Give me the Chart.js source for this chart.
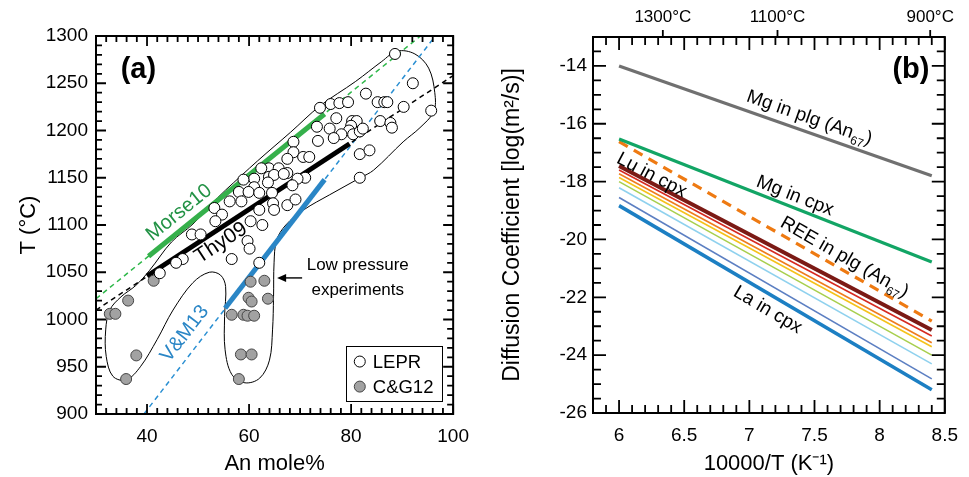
<!DOCTYPE html>
<html>
<head>
<meta charset="utf-8">
<script src="https://cdn.jsdelivr.net/npm/chart.js@4.4.1/dist/chart.umd.min.js"></script>
<style>
  html, body { margin: 0; padding: 0; background: #fff; overflow: hidden; }
  #wrap { position: relative; width: 969px; height: 477px; }
  canvas { position: absolute; top: 0; }
  #chartA { left: 0; }
  #chartB { left: 480px; }
</style>
</head>
<body>
<div id="wrap">
  <canvas id="chartA" width="480" height="477"></canvas>
  <canvas id="chartB" width="489" height="477"></canvas>
</div>
<script>
const FONT = '"Liberation Sans", Arial, Helvetica, sans-serif';

// ---- panel (a) : plagioclase An content vs temperature ----
const lepAn = [88.6, 92.1, 82.9, 73.9, 76.0, 77.7, 79.4, 85.2, 86.5, 87.1, 90.3, 95.7, 77.1, 80.2, 81.1,
  85.7, 87.7, 88.0, 73.3, 75.8, 80.0, 79.6, 78.1, 76.6, 80.4, 81.7, 82.3, 73.5, 68.7, 68.7,
  70.6, 71.8, 81.7, 83.6, 81.7, 67.5, 63.9, 65.8, 67.5, 63.9, 64.9, 66.8, 71.0, 69.5, 61.0,
  63.7, 61.0, 68.5, 58.0, 59.9, 58.9, 62.0, 64.5, 56.2, 58.5, 67.5, 69.1, 64.7, 62.0, 64.9,
  53.2, 54.7, 53.4, 60.3, 62.6, 48.8, 50.5, 59.7, 60.1, 47.0, 45.7, 56.6, 62.0, 42.5, 62.4];
const lepT = [1281, 1250, 1239, 1224, 1228, 1229, 1230, 1230, 1230, 1230, 1225, 1221, 1213, 1210, 1210,
  1210, 1208, 1203, 1204, 1202, 1205, 1200, 1196, 1192, 1196, 1199, 1202, 1189, 1188, 1177,
  1172, 1172, 1175, 1179, 1150, 1170, 1160, 1160, 1155, 1151, 1153, 1154, 1150, 1149, 1149,
  1145, 1140, 1142, 1135, 1135, 1148, 1134, 1134, 1125, 1125, 1121, 1127, 1123, 1116, 1116,
  1118, 1111, 1104, 1104, 1100, 1090, 1090, 1083, 1075, 1064, 1060, 1064, 1060, 1049, 1160];
const cgAn = [41.3, 36.3, 32.7, 33.8, 37.9, 35.9, 60.3, 63.0, 59.9, 60.5, 63.7, 56.6, 58.9, 59.7, 61.0, 58.4, 60.5, 58.0];
const cgT = [1041, 1020, 1006, 1006, 962, 937, 1040, 1041, 1023, 1019, 1022, 1005, 1005, 1004, 1004, 963, 963, 937];

// outline round the data (closed)
const envAn = [55.4, 61.7, 68.1, 73.9, 80.9, 86.0, 89.0, 92.5, 95.2, 96.4, 96.2, 93.5, 90.2, 84.4, 81.8,
  75.8, 70.7, 67.2, 65.4, 64.9, 64.8, 64.6, 64.0, 62.1, 59.2, 56.6, 55.3, 55.2, 55.4, 54.4,
  52.2, 49.0, 45.1, 42.0, 38.7, 35.9, 33.3, 32.0, 31.9, 32.7, 34.9, 37.8, 40.5, 44.8, 49.0, 52.2, 55.4];
const envT = [1137, 1168, 1198, 1226, 1252, 1273, 1284, 1281, 1266, 1240, 1220, 1203, 1188, 1158, 1150,
  1132, 1116, 1100, 1084, 1060, 1024, 989, 957, 938, 933, 942, 968, 1003, 1035, 1047,
  1050, 1039, 1010, 979, 950, 936, 940, 961, 989, 1010, 1024, 1036, 1052, 1082, 1101, 1120, 1137];

const fitNames = ['Morse10', 'Thy09', 'V&M13'];
const fitSolidAn = [[40.3, 74.8], [40.0, 79.7], [55.3, 74.8]];
const fitSolidT = [[1067, 1217.5], [1046, 1186], [1012, 1148]];
const fitDashAn = [[30, 93.6], [30, 100], [39.4, 96.5]];
const fitDashT = [[1022, 1300], [1010, 1258], [900, 1300]];
const fitColors = ['#35b04b', '#000000', '#2a86c6'];
const fitDashColors = ['#2fb84a', '#000000', '#2a8fd2'];
const fitTextColors = ['#229245', '#000000', '#2a86c6'];

const anTicks = [40, 60, 80, 100];
const tTicks = [900, 950, 1000, 1050, 1100, 1150, 1200, 1250, 1300];

// ---- panel (b) : diffusion coefficients vs 10000/T ----
const invT = [6.0, 8.4];
const mgPlg = [-14.0, -17.8];
const mgCpx = [-16.53, -20.78];
const reePlg = [-16.62, -22.82];
const reeCpxAt6 = [-17.46, -17.60, -17.73, -17.86, -18.00, -18.21, -18.55, -18.83];
const reeCpxAt84 = [-23.13, -23.34, -23.57, -23.71, -24.00, -24.30, -24.82, -25.20];
const reeCpxColors = ['#7b1a15', '#d62a20', '#ef7c1e', '#f5c21a', '#a8cf4e', '#8fd1ee', '#5c7fc2', '#1c7fc3'];
const reeCpxWidths = [4, 1.6, 1.6, 1.6, 1.6, 1.6, 1.6, 3.5];

const invTTicks = [6, 6.5, 7, 7.5, 8, 8.5];
const logDTicks = [-26, -24, -22, -20, -18, -16, -14];
const topTempLabels = ['1300°C', '1100°C', '900°C'];
const topTempAt = [6.336, 7.216, 8.388];

Chart.defaults.font.family = FONT;
Chart.defaults.color = '#000';

function pts(xs, ys) {
  return xs.map((v, i) => ({ x: v, y: ys[i] }));
}

// frame with inward ticks on the four sides (plus outward ticks for a top axis)
function frameTicks(cfg) {
  return {
    id: 'frameTicks',
    afterDraw(chart) {
      const ctx = chart.ctx, a = chart.chartArea;
      const sx = chart.scales.x, sy = chart.scales.y;
      ctx.save();
      ctx.strokeStyle = '#000';
      ctx.lineWidth = 1.8;
      ctx.beginPath();
      for (let i = 0; i * cfg.xStep <= cfg.xMax - cfg.xMin + 1e-9; i++) {
        const v = cfg.xMin + i * cfg.xStep;
        const r = v / cfg.xMajor;
        const len = Math.abs(r - Math.round(r)) < 1e-6 ? cfg.major : cfg.minor;
        const p = sx.getPixelForValue(v);
        ctx.moveTo(p, a.bottom); ctx.lineTo(p, a.bottom - len);
        ctx.moveTo(p, a.top); ctx.lineTo(p, a.top + len);
      }
      for (let i = 0; i * cfg.yStep <= cfg.yMax - cfg.yMin + 1e-9; i++) {
        const v = cfg.yMin + i * cfg.yStep;
        const r = v / cfg.yMajor;
        const len = Math.abs(r - Math.round(r)) < 1e-6 ? cfg.major : cfg.minor;
        const p = sy.getPixelForValue(v);
        ctx.moveTo(a.left, p); ctx.lineTo(a.left + len, p);
        ctx.moveTo(a.right, p); ctx.lineTo(a.right - len, p);
      }
      (cfg.topAt || []).forEach(v => {
        const p = sx.getPixelForValue(v);
        ctx.moveTo(p, a.top); ctx.lineTo(p, a.top - 7);
      });
      ctx.stroke();
      ctx.lineWidth = 2;
      ctx.strokeRect(a.left, a.top, a.right - a.left, a.bottom - a.top);
      ctx.restore();
    }
  };
}

// text with optional subscripts, centred and rotated
function drawRich(ctx, parts, x, y, angle, size, color, weight) {
  ctx.save();
  ctx.translate(x, y);
  ctx.rotate(angle);
  ctx.fillStyle = color;
  ctx.textBaseline = 'middle';
  ctx.textAlign = 'left';
  const fonts = parts.map(p => `${weight || 'normal'} ${p.sub ? Math.round(size * 0.62) : size}px ${FONT}`);
  const widths = parts.map((p, i) => { ctx.font = fonts[i]; return ctx.measureText(p.t).width; });
  let cx = -widths.reduce((s, w) => s + w, 0) / 2;
  parts.forEach((p, i) => {
    ctx.font = fonts[i];
    ctx.fillText(p.t, cx, p.sub ? size * 0.38 : 0);
    cx += widths[i];
  });
  ctx.restore();
}

// ---------- panel (a) ----------
const datasetsA = [
  {
    label: 'LEPR', data: pts(lepAn, lepT), pointRadius: 5.5, pointBackgroundColor: '#fff',
    pointBorderColor: '#000', pointBorderWidth: 1, showLine: false, order: 0
  },
  {
    label: 'C&G12', data: pts(cgAn, cgT), pointRadius: 5.5, pointBackgroundColor: '#a2a2a2',
    pointBorderColor: '#444', pointBorderWidth: 1, showLine: false, order: 0
  }
];
fitNames.forEach((name, i) => {
  datasetsA.push({
    label: name, data: pts(fitSolidAn[i], fitSolidT[i]), showLine: true, pointRadius: 0,
    borderColor: fitColors[i], borderWidth: 5, borderCapStyle: 'butt', order: 1
  });
  datasetsA.push({
    label: name + ' ext', data: pts(fitDashAn[i], fitDashT[i]), showLine: true, pointRadius: 0,
    borderColor: fitDashColors[i], borderWidth: 1.5, borderDash: [5, 4], order: 2
  });
});
datasetsA.push({
  label: 'outline', data: pts(envAn, envT), showLine: true, pointRadius: 0, borderColor: '#000',
  borderWidth: 1, tension: 0.35, cubicInterpolationMode: 'default', order: 3
});

const labelsA = {
  id: 'labelsA',
  afterDatasetsDraw(chart) {
    const { ctx, scales: { x, y } } = chart;
    const P = (a, t) => [x.getPixelForValue(a), y.getPixelForValue(t)];
    const ang = i => {
      const [x1, y1] = P(fitSolidAn[i][0], fitSolidT[i][0]);
      const [x2, y2] = P(fitSolidAn[i][1], fitSolidT[i][1]);
      return Math.atan2(y2 - y1, x2 - x1);
    };
    drawRich(ctx, [{ t: '(a)' }], ...P(38.3, 1264), 0, 29, '#000', 'bold');
    drawRich(ctx, [{ t: 'Morse10' }], ...P(46.3, 1113), ang(0), 20, fitTextColors[0]);
    drawRich(ctx, [{ t: 'Thy09' }], ...P(54.5, 1081), ang(1), 21, fitTextColors[1]);
    drawRich(ctx, [{ t: 'V&M13' }], ...P(47.4, 985), ang(2), 20, fitTextColors[2]);
    drawRich(ctx, [{ t: 'Low pressure' }], ...P(81.3, 1057), 0, 17, '#000');
    drawRich(ctx, [{ t: 'experiments' }], ...P(81.3, 1031), 0, 17, '#000');

    // arrow to the low pressure lobe
    const [ax1, ay] = P(70.4, 1044);
    const [ax2] = P(65.5, 1044);
    ctx.save();
    ctx.fillStyle = '#000';
    ctx.fillRect(ax2 + 6, ay - 0.7, ax1 - ax2 - 6, 1.4);
    ctx.beginPath();
    ctx.moveTo(ax2, ay); ctx.lineTo(ax2 + 9, ay - 4); ctx.lineTo(ax2 + 9, ay + 4);
    ctx.closePath();
    ctx.fill();
    ctx.restore();

    // legend box
    const [bx1, by1] = P(79.0, 972);
    const [bx2, by2] = P(97.8, 914);
    ctx.save();
    ctx.fillStyle = '#fff';
    ctx.fillRect(bx1, by1, bx2 - bx1, by2 - by1);
    ctx.strokeStyle = '#000';
    ctx.lineWidth = 1;
    ctx.strokeRect(Math.round(bx1) + 0.5, Math.round(by1) + 0.5, Math.round(bx2 - bx1), Math.round(by2 - by1));
    const rows = [{ name: 'LEPR', t: 955.5, fill: '#fff', line: '#000' },
                  { name: 'C&G12', t: 929, fill: '#a2a2a2', line: '#444' }];
    rows.forEach(r => {
      const [cx, cy] = P(81.7, r.t);
      ctx.beginPath();
      ctx.arc(cx, cy, 5.5, 0, Math.PI * 2);
      ctx.fillStyle = r.fill;
      ctx.fill();
      ctx.strokeStyle = r.line;
      ctx.stroke();
      ctx.fillStyle = '#000';
      ctx.font = `18.5px ${FONT}`;
      ctx.textBaseline = 'middle';
      ctx.textAlign = 'left';
      ctx.fillText(r.name, cx + 13, cy + 1);
    });
    ctx.restore();
  }
};

new Chart(document.getElementById('chartA'), {
  type: 'scatter',
  data: { datasets: datasetsA },
  options: {
    responsive: false,
    animation: false,
    layout: { padding: { left: 0, right: 19, top: 36, bottom: 0 } },
    plugins: { legend: { display: false }, tooltip: { enabled: false } },
    scales: {
      x: {
        type: 'linear', min: 30, max: 100,
        afterBuildTicks: s => { s.ticks = anTicks.map(v => ({ value: v })); },
        afterFit: s => { s.height = 63; },
        grid: { display: false, drawTicks: false },
        border: { display: false },
        ticks: { font: { size: 19 }, padding: 11, autoSkip: false, maxRotation: 0, callback: v => String(v) },
        title: { display: true, text: 'An mole%', font: { size: 22 }, padding: { top: 0, bottom: 0 } }
      },
      y: {
        type: 'linear', min: 900, max: 1300,
        afterBuildTicks: s => { s.ticks = tTicks.map(v => ({ value: v })); },
        afterFit: s => { s.width = 96; },
        grid: { display: false, drawTicks: false },
        border: { display: false },
        ticks: { font: { size: 19 }, padding: 8, autoSkip: false, callback: v => String(v) },
        title: { display: true, text: 'T (°C)', font: { size: 22 }, padding: { top: 16, bottom: 0 } }
      }
    }
  },
  plugins: [labelsA, frameTicks({ xMin: 30, xMax: 100, xStep: 2, xMajor: 20,
                                  yMin: 900, yMax: 1300, yStep: 10, yMajor: 50, major: 10, minor: 6 })]
});

// ---------- panel (b) ----------
const datasetsB = [
  { label: 'Mg in plg', data: pts(invT, mgPlg), borderColor: '#707070', borderWidth: 3.2 },
  { label: 'Mg in cpx', data: pts(invT, mgCpx), borderColor: '#12a565', borderWidth: 3.2 },
  { label: 'REE in plg', data: pts(invT, reePlg), borderColor: '#ee7a12', borderWidth: 3.2, borderDash: [10, 7] }
];
reeCpxAt6.forEach((v, i) => {
  datasetsB.push({
    label: 'REE in cpx ' + (i + 1), data: pts(invT, [v, reeCpxAt84[i]]),
    borderColor: reeCpxColors[i], borderWidth: reeCpxWidths[i]
  });
});
datasetsB.forEach((d, i) => {
  d.showLine = true;
  d.pointRadius = 0;
  d.borderCapStyle = 'butt';
  d.order = i;
});

const labelsB = {
  id: 'labelsB',
  afterDatasetsDraw(chart) {
    const { ctx, scales: { x, y } } = chart;
    const P = (a, b) => [x.getPixelForValue(a), y.getPixelForValue(b)];
    const ang = vals => {
      const [x1, y1] = P(invT[0], vals[0]);
      const [x2, y2] = P(invT[1], vals[1]);
      return Math.atan2(y2 - y1, x2 - x1);
    };
    const an67 = pre => [{ t: pre + ' (An' }, { t: '67', sub: true }, { t: ')' }];
    drawRich(ctx, [{ t: '(b)' }], ...P(8.24, -14.14), 0, 29, '#000', 'bold');
    drawRich(ctx, an67('Mg in plg'), ...P(7.46, -15.8), ang(mgPlg), 19, '#000');
    drawRich(ctx, [{ t: 'Mg in cpx' }], ...P(7.35, -18.5), ang(mgCpx), 19, '#000');
    drawRich(ctx, an67('REE in plg'), ...P(7.73, -20.62), ang(reePlg), 19, '#000');
    drawRich(ctx, [{ t: 'Lu in cpx' }], ...P(6.25, -17.78), ang([reeCpxAt6[0], reeCpxAt84[0]]), 19, '#000');
    drawRich(ctx, [{ t: 'La in cpx' }], ...P(7.14, -22.44), ang([reeCpxAt6[7], reeCpxAt84[7]]), 19, '#000');
  }
};

new Chart(document.getElementById('chartB'), {
  type: 'scatter',
  data: { datasets: datasetsB },
  options: {
    responsive: false,
    animation: false,
    layout: { padding: { left: 0, right: 14, top: 0, bottom: 0 } },
    plugins: { legend: { display: false }, tooltip: { enabled: false } },
    scales: {
      x: {
        type: 'linear', min: 5.8, max: 8.5,
        afterBuildTicks: s => { s.ticks = invTTicks.map(v => ({ value: v })); },
        afterFit: s => { s.height = 64; },
        grid: { display: false, drawTicks: false },
        border: { display: false },
        ticks: { font: { size: 19 }, padding: 11, autoSkip: false, maxRotation: 0, callback: v => String(v) },
        title: { display: true, text: '10000/T (K⁻¹)', font: { size: 22 }, padding: { top: 0, bottom: 0 } }
      },
      x2: {
        type: 'linear', position: 'top', min: 5.8, max: 8.5,
        afterBuildTicks: s => { s.ticks = topTempAt.map(v => ({ value: v })); },
        afterFit: s => { s.height = 37; },
        grid: { display: false, drawTicks: true, tickLength: 6 },
        border: { display: false },
        ticks: { font: { size: 17 }, padding: 3, autoSkip: false, maxRotation: 0,
                 callback: (v, i) => topTempLabels[i] }
      },
      y: {
        type: 'linear', min: -26, max: -13,
        afterBuildTicks: s => { s.ticks = logDTicks.map(v => ({ value: v })); },
        afterFit: s => { s.width = 113; },
        grid: { display: false, drawTicks: false },
        border: { display: false },
        ticks: { font: { size: 19 }, padding: 6, autoSkip: false, callback: v => String(v) },
        title: { display: true, text: 'Diffusion Coefficient [log(m²/s)]', font: { size: 23 },
                 padding: { top: 19, bottom: 0 } }
      }
    }
  },
  plugins: [labelsB, frameTicks({ xMin: 5.8, xMax: 8.5, xStep: 0.1, xMajor: 0.5,
                                  yMin: -26, yMax: -13, yStep: 0.5, yMajor: 2, major: 13, minor: 8,
                                  topAt: topTempAt })]
});
</script>
</body>
</html>
